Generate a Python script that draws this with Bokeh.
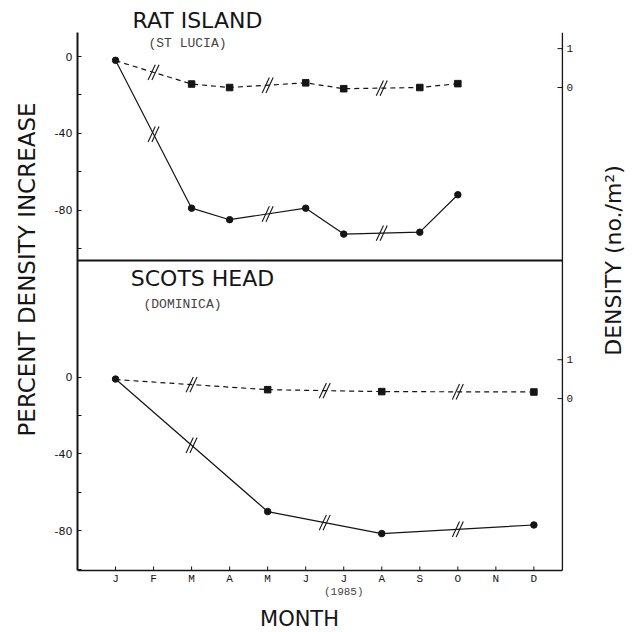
import math
from bokeh.plotting import figure
from bokeh.models import Range1d, FixedTicker, Label, Title
from bokeh.core.properties import value
from bokeh.embed import file_html
from bokeh.resources import INLINE

# ---------------- data ----------------
MONTH_NUMS = list(range(1, 13))
MONTH_LABELS = ["J", "F", "M", "A", "M", "J", "J", "A", "S", "O", "N", "D"]
YEAR_LABEL = "(1985)"
YEAR_MONTH = 7

# Rat Island (St Lucia)
rat_months = [1, 3, 4, 6, 7, 9, 10]
rat_pct = [-2, -79, -85, -79, -92.5, -91.5, -72]        # percent density increase
rat_den = [0.69, 0.09, 0.0, 0.12, -0.03, 0.0, 0.1]      # density (no./m2)

# Scots Head (Dominica)
scots_months = [1, 5, 8, 12]
scots_pct = [-1, -70, -81.5, -77]
scots_den = [0.49, 0.23, 0.18, 0.17]

PCT_TICKS = [0, -40, -80]
PCT_MINOR = [-20, -60, -100]
DEN_TICKS = [1, 0]
DEN_TICK_LABELS = ["1", "0"]

# ---------------- layout constants ----------------
X_RANGE = (0, 14.54)
RIGHT_AXIS_X = 12.75
PCT_RANGE_TOP = (-300.0, 12.5)   # top panel percent scale over the full frame
PCT_SHIFT = 167                  # bottom panel percent scale offset
DEN_RANGE_TOP = (-14.015, 1.415)
DEN_SHIFT = 8
TOP_PANEL_FLOOR = -106.25        # lower edge of upper panel (top percent units)
BOTTOM_FLOOR = -100.7            # lower edge of lower panel (bottom percent units)
X_TICK_LEN = 2.1                 # percent units
Y_TICK_LEN = 0.13                # months

INK = "#151515"
SANS = "DejaVu Sans"
MONO = "Liberation Mono"

p = figure(width=634, height=632,
           x_range=Range1d(*X_RANGE),
           y_range=Range1d(*PCT_RANGE_TOP),
           x_axis_location=None,
           output_backend="svg", toolbar_location=None,
           min_border_left=77, min_border_right=4,
           min_border_top=32, min_border_bottom=0)
p.extra_y_ranges = {
    "pct_bot": Range1d(PCT_RANGE_TOP[0] + PCT_SHIFT, PCT_RANGE_TOP[1] + PCT_SHIFT),
    "den_top": Range1d(*DEN_RANGE_TOP),
    "den_bot": Range1d(DEN_RANGE_TOP[0] + DEN_SHIFT, DEN_RANGE_TOP[1] + DEN_SHIFT),
}
p.outline_line_color = None
p.xgrid.grid_line_color = None
p.ygrid.grid_line_color = None
p.background_fill_color = "white"
p.border_fill_color = "white"

# ----- left axis (both panels) -----
ya = p.yaxis[0]
lt = PCT_TICKS + [t - PCT_SHIFT for t in PCT_TICKS]
lm = PCT_MINOR + [t - PCT_SHIFT for t in PCT_MINOR]
ya.ticker = FixedTicker(ticks=lt, minor_ticks=lm)
ya.bounds = (BOTTOM_FLOOR - PCT_SHIFT, PCT_RANGE_TOP[1])
ov = {t: str(t) for t in PCT_TICKS}
ov.update({t - PCT_SHIFT: str(t) for t in PCT_TICKS})
ya.major_label_overrides = ov
ya.axis_line_color = INK
ya.axis_line_width = 2
ya.major_tick_line_color = INK
ya.minor_tick_line_color = INK
ya.major_tick_in = 4
ya.major_tick_out = 0
ya.minor_tick_in = 4
ya.minor_tick_out = 0
ya.major_label_standoff = 5
ya.major_label_text_font = SANS
ya.major_label_text_font_size = "11px"
ya.major_label_text_color = INK

# ----- bottom (month) axis, drawn with glyphs on the lower panel scale -----
p.segment(x0=[X_RANGE[0]], y0=[BOTTOM_FLOOR], x1=[RIGHT_AXIS_X], y1=[BOTTOM_FLOOR],
          y_range_name="pct_bot", line_color=INK, line_width=1.6)
p.segment(x0=MONTH_NUMS, y0=[BOTTOM_FLOOR] * 12, x1=MONTH_NUMS,
          y1=[BOTTOM_FLOOR + X_TICK_LEN] * 12,
          y_range_name="pct_bot", line_color=INK, line_width=1)
p.text(x=MONTH_NUMS, y=[BOTTOM_FLOOR] * 12, text=MONTH_LABELS,
       y_range_name="pct_bot", y_offset=3,
       text_font=value(MONO), text_font_size="11px", text_color=INK,
       text_align="center", text_baseline="top")
p.text(x=[YEAR_MONTH], y=[BOTTOM_FLOOR], text=[YEAR_LABEL],
       y_range_name="pct_bot", y_offset=16,
       text_font=value(MONO), text_font_size="11px", text_color="#444444",
       text_align="center", text_baseline="top")

# ----- right (density) axis, drawn with glyphs -----
p.segment(x0=[RIGHT_AXIS_X], y0=[BOTTOM_FLOOR - PCT_SHIFT], x1=[RIGHT_AXIS_X],
          y1=[PCT_RANGE_TOP[1]], line_color=INK, line_width=1.3)
for rng in ("den_top", "den_bot"):
    n = len(DEN_TICKS)
    p.segment(x0=[RIGHT_AXIS_X - Y_TICK_LEN] * n, y0=DEN_TICKS,
              x1=[RIGHT_AXIS_X] * n, y1=DEN_TICKS,
              y_range_name=rng, line_color=INK, line_width=1)
    p.text(x=[RIGHT_AXIS_X] * n, y=DEN_TICKS, text=DEN_TICK_LABELS,
           y_range_name=rng, x_offset=4,
           text_font=value(MONO), text_font_size="11px", text_color=INK,
           text_align="left", text_baseline="middle")

# divider between panels
p.segment(x0=[X_RANGE[0]], y0=[TOP_PANEL_FLOOR], x1=[RIGHT_AXIS_X],
          y1=[TOP_PANEL_FLOOR], line_color=INK, line_width=1.8)


def break_marks(months, vals):
    xs, ys = [], []
    for i in range(len(months) - 1):
        if months[i + 1] - months[i] > 1:
            xs.append((months[i] + months[i + 1]) / 2)
            ys.append((vals[i] + vals[i + 1]) / 2)
    return xs, ys


def draw_series(months, vals, rng, dashed):
    kw = {} if rng is None else {"y_range_name": rng}
    p.line(months, vals, line_color=INK, line_width=1.2,
           line_dash="5 4" if dashed else "solid", **kw)
    if dashed:
        p.scatter(months[1:], vals[1:], marker="square", size=6.5,
                  fill_color=INK, line_color=INK, **kw)
    else:
        p.scatter(months, vals, marker="circle", size=6.5,
                  fill_color=INK, line_color=INK, **kw)
    bx, by = break_marks(months, vals)
    for dx in (-0.05, 0.05):
        p.scatter([x + dx for x in bx], by, marker="dash", size=17,
                  angle=math.radians(65), line_color=INK, line_width=1.1, **kw)


draw_series(rat_months, rat_den, "den_top", True)
draw_series(rat_months, rat_pct, None, False)
draw_series(scots_months, scots_den, "den_bot", True)
draw_series(scots_months, scots_pct, "pct_bot", False)

# ---------------- texts ----------------
p.add_layout(Title(text="RAT ISLAND", align="left", offset=55, standoff=0,
                   text_font=SANS, text_font_size="22px",
                   text_font_style="normal", text_color=INK), "above")
p.add_layout(Title(text="PERCENT DENSITY INCREASE", align="left", offset=196,
                   standoff=23, text_font=SANS, text_font_size="23px",
                   text_font_style="normal", text_color=INK), "left")


def lab(text, x, y, size, font=SANS, color=INK, angle=0.0):
    p.add_layout(Label(x=x, y=y, x_units="screen", y_units="screen", text=text,
                       text_font=font, text_font_size=size, text_color=color,
                       text_align="center", text_baseline="middle", angle=angle))


lab("(ST LUCIA)", 110, 589, "13px", font=MONO, color="#444444")
lab("SCOTS HEAD", 125, 354, "22px")
lab("(DOMINICA)", 105, 328, "13px", font=MONO, color="#444444")
lab("DENSITY (no./m\u00b2)", 536, 372, "22px", angle=math.pi / 2)
lab("MONTH", 222, 14, "21px")

open("out.html", "w").write(file_html(p, INLINE))
